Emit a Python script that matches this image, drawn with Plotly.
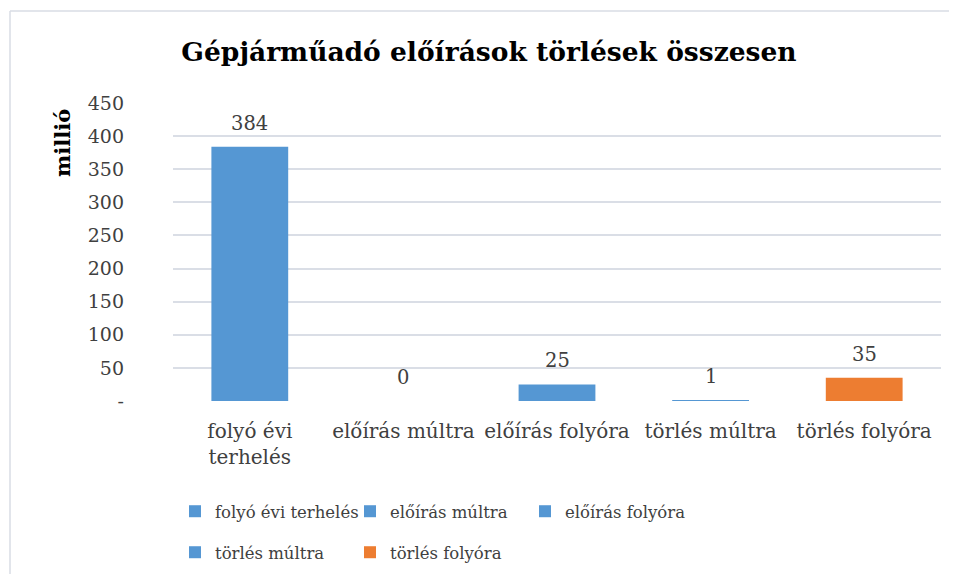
import plotly.graph_objects as go

# ---- data ----
categories = ["folyó évi terhelés", "előírás múltra", "előírás folyóra", "törlés múltra", "törlés folyóra"]
axis_labels = ["folyó évi<br>terhelés", "előírás múltra", "előírás folyóra", "törlés múltra", "törlés folyóra"]
values = [384, 0, 25, 1, 35]
colors = ["#5597d3", "#5597d3", "#5597d3", "#5597d3", "#ed7d31"]
legend_rows = ["legend", "legend", "legend", "legend2", "legend2"]
y_tickvals = [0, 50, 100, 150, 200, 250, 300, 350, 400, 450]
y_ticktext = ["-", "50", "100", "150", "200", "250", "300", "350", "400", "450"]

FONT = "DejaVu Serif"
TXT = "#404040"

OFF = 8  # page body margin
W, H = 957 - 2 * OFF, 582 - 2 * OFF
ML, MT = 173 - OFF, 103 - OFF
MR = W - (941 - OFF)
MB = H - (401 - OFF)
PW, PH = W - ML - MR, H - MT - MB

def px_x(rx):
    return (rx - OFF - ML) / PW

def px_y(ry):
    return (H - MB - (ry - OFF)) / PH

fig = go.Figure()
for cat, lab, v, c, lg in zip(categories, axis_labels, values, colors, legend_rows):
    fig.add_trace(go.Bar(
        x=[lab], y=[v], name=cat, marker=dict(color=c, line=dict(width=0)),
        legend=lg, hoverinfo="skip",
    ))

annotations = []
for lab, v in zip(axis_labels, values):
    annotations.append(dict(
        x=lab, y=v, xref="x", yref="y", text=str(v), showarrow=False,
        yanchor="bottom", yshift=10, font=dict(family=FONT, size=19.5, color=TXT),
    ))
annotations.append(dict(
    x=px_x(62), y=px_y(143), xref="paper", yref="paper", text="<b>millió</b>",
    xanchor="center", yanchor="middle",
    textangle=-90, showarrow=False, font=dict(family=FONT, size=21, color="#000000"),
))

leg_font = dict(family=FONT, size=16.5, color=TXT)
fig.update_layout(
    width=W, height=H,
    margin=dict(l=ML, r=MR, t=MT, b=MB, autoexpand=False),
    paper_bgcolor="white", plot_bgcolor="white",
    barmode="overlay", bargap=0.5,
    title=dict(text="<b>Gépjárműadó előírások törlések összesen</b>", x=px_x(489), xanchor="center",
               xref="paper", y=1 - (52 - OFF) / H, yanchor="middle",
               font=dict(family=FONT, size=26.5, color="#000000")),
    font=dict(family=FONT, size=19, color=TXT),
    showlegend=True,
    legend=dict(orientation="h", x=px_x(175), y=px_y(494), xanchor="left", yanchor="top",
                entrywidth=130, entrywidthmode="pixels", font=leg_font,
                bgcolor="rgba(0,0,0,0)"),
    legend2=dict(orientation="h", x=px_x(175), y=px_y(535), xanchor="left", yanchor="top",
                 entrywidth=130, entrywidthmode="pixels", font=leg_font,
                 bgcolor="rgba(0,0,0,0)"),
    xaxis=dict(showgrid=False, showline=False, ticks="", ticklabelstandoff=16, automargin=False,
               tickfont=dict(family=FONT, size=20, color=TXT), fixedrange=True),
    yaxis=dict(range=[0, 450], tickvals=y_tickvals, ticktext=y_ticktext, showgrid=True, automargin=False,
               gridcolor="#dadee6", gridwidth=1.5, zeroline=False, showline=False, ticks="",
               ticklabelstandoff=48, tickfont=dict(family=FONT, size=19, color=TXT), fixedrange=True),
    annotations=annotations,
    shapes=[
        dict(type="line", xref="paper", yref="paper", x0=px_x(10), x1=px_x(960), y0=px_y(11), y1=px_y(11),
             line=dict(color="#d9dde5", width=1.5)),
        dict(type="line", xref="paper", yref="paper", x0=px_x(10), x1=px_x(10), y0=px_y(11), y1=px_y(585),
             line=dict(color="#d9dde5", width=1.5)),
    ],
)

fig.write_html("out.html")
